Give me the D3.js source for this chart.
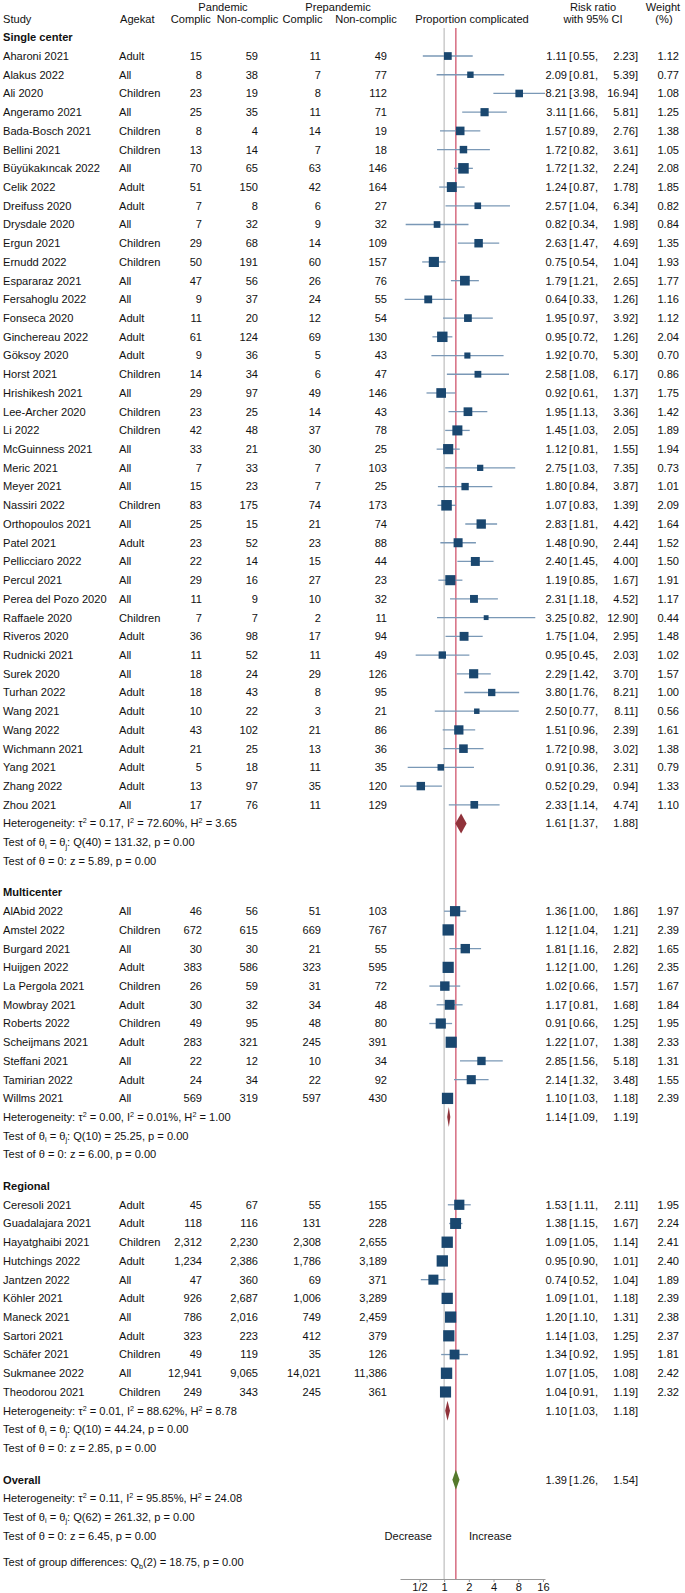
<!DOCTYPE html>
<html>
<head>
<meta charset="utf-8">
<script src="https://cdn.jsdelivr.net/npm/d3@7"></script>
<style>
body { margin: 0; background: #fff; }
svg { display: block; font-family: "Liberation Sans", Arial, sans-serif; font-size: 11.1px; fill: #111; }
</style>
</head>
<body>
<div id="chart"></div>
<script>
// ---- data ----
var groupNames = ["Single center", "Multicenter", "Regional"];
var groupSizes = [41, 11, 11];

var studies = ["Aharoni 2021","Alakus 2022","Ali 2020","Angeramo 2021","Bada-Bosch 2021","Bellini 2021","Büyükakıncak 2022","Celik 2022","Dreifuss 2020","Drysdale 2020","Ergun 2021","Ernudd 2022","Espararaz 2021","Fersahoglu 2022","Fonseca 2020","Ginchereau 2022","Göksoy 2020","Horst 2021","Hrishikesh 2021","Lee-Archer 2020","Li 2022","McGuinness 2021","Meric 2021","Meyer 2021","Nassiri 2022","Orthopoulos 2021","Patel 2021","Pellicciaro 2022","Percul 2021","Perea del Pozo 2020","Raffaele 2020","Riveros 2020","Rudnicki 2021","Surek 2020","Turhan 2022","Wang 2021","Wang 2022","Wichmann 2021","Yang 2021","Zhang 2022","Zhou 2021",
  "AlAbid 2022","Amstel 2022","Burgard 2021","Huijgen 2022","La Pergola 2021","Mowbray 2021","Roberts 2022","Scheijmans 2021","Steffani 2021","Tamirian 2022","Willms 2021",
  "Ceresoli 2021","Guadalajara 2021","Hayatghaibi 2021","Hutchings 2022","Jantzen 2022","Köhler 2021","Maneck 2021","Sartori 2021","Schäfer 2021","Sukmanee 2022","Theodorou 2021"];

var agekat = ["Adult","All","Children","All","Children","Children","All","Adult","Adult","All","Children","Children","All","All","Adult","Adult","Adult","Children","All","Children","Children","All","All","All","Children","All","Adult","All","All","All","Children","Adult","All","All","Adult","Adult","Adult","Adult","Adult","Adult","All",
  "All","Children","All","Adult","Children","Adult","Children","Adult","All","Adult","All",
  "Adult","Adult","Children","Adult","All","Adult","All","Adult","Children","All","Children"];

var panComplic = [15,8,23,25,8,13,70,51,7,7,29,50,47,9,11,61,9,14,29,23,42,33,7,15,83,25,23,22,29,11,7,36,11,18,18,10,43,21,5,13,17,
  46,672,30,383,26,30,49,283,22,24,569,
  45,118,2312,1234,47,926,786,323,49,12941,249];
var panNoncomplic = [59,38,19,35,4,14,65,150,8,32,68,191,56,37,20,124,36,34,97,25,48,21,33,23,175,15,52,14,16,9,7,98,52,24,43,22,102,25,18,97,76,
  56,615,30,586,59,32,95,321,12,34,319,
  67,116,2230,2386,360,2687,2016,223,119,9065,343];
var preComplic = [11,7,8,11,14,7,63,42,6,9,14,60,26,24,12,69,5,6,49,14,37,30,7,7,74,21,23,15,27,10,2,17,11,29,8,3,21,13,11,35,11,
  51,669,21,323,31,34,48,245,10,22,597,
  55,131,2308,1786,69,1006,749,412,35,14021,245];
var preNoncomplic = [49,77,112,71,19,18,146,164,27,32,109,157,76,55,54,130,43,47,146,43,78,25,103,25,173,74,88,44,23,32,11,94,49,126,95,21,86,36,35,120,129,
  103,767,55,595,72,48,80,391,34,92,430,
  155,228,2655,3189,371,3289,2459,379,126,11386,361];

var rr = [1.11,2.09,8.21,3.11,1.57,1.72,1.72,1.24,2.57,0.82,2.63,0.75,1.79,0.64,1.95,0.95,1.92,2.58,0.92,1.95,1.45,1.12,2.75,1.80,1.07,2.83,1.48,2.40,1.19,2.31,3.25,1.75,0.95,2.29,3.80,2.50,1.51,1.72,0.91,0.52,2.33,
  1.36,1.12,1.81,1.12,1.02,1.17,0.91,1.22,2.85,2.14,1.10,
  1.53,1.38,1.09,0.95,0.74,1.09,1.20,1.14,1.34,1.07,1.04];
var rrLow = [0.55,0.81,3.98,1.66,0.89,0.82,1.32,0.87,1.04,0.34,1.47,0.54,1.21,0.33,0.97,0.72,0.70,1.08,0.61,1.13,1.03,0.81,1.03,0.84,0.83,1.81,0.90,1.45,0.85,1.18,0.82,1.04,0.45,1.42,1.76,0.77,0.96,0.98,0.36,0.29,1.14,
  1.00,1.04,1.16,1.00,0.66,0.81,0.66,1.07,1.56,1.32,1.03,
  1.11,1.15,1.05,0.90,0.52,1.01,1.10,1.03,0.92,1.05,0.91];
var rrHigh = [2.23,5.39,16.94,5.81,2.76,3.61,2.24,1.78,6.34,1.98,4.69,1.04,2.65,1.26,3.92,1.26,5.30,6.17,1.37,3.36,2.05,1.55,7.35,3.87,1.39,4.42,2.44,4.00,1.67,4.52,12.90,2.95,2.03,3.70,8.21,8.11,2.39,3.02,2.31,0.94,4.74,
  1.86,1.21,2.82,1.26,1.57,1.68,1.25,1.38,5.18,3.48,1.18,
  2.11,1.67,1.14,1.01,1.04,1.18,1.31,1.25,1.95,1.08,1.19];
var weight = [1.12,0.77,1.08,1.25,1.38,1.05,2.08,1.85,0.82,0.84,1.35,1.93,1.77,1.16,1.12,2.04,0.70,0.86,1.75,1.42,1.89,1.94,0.73,1.01,2.09,1.64,1.52,1.50,1.91,1.17,0.44,1.48,1.02,1.57,1.00,0.56,1.61,1.38,0.79,1.33,1.10,
  1.97,2.39,1.65,2.35,1.67,1.84,1.95,2.33,1.31,1.55,2.39,
  1.95,2.24,2.41,2.40,1.89,2.39,2.38,2.37,1.81,2.42,2.32];

// subgroup summaries
var groupRR = [1.61, 1.14, 1.10];
var groupLow = [1.37, 1.09, 1.03];
var groupHigh = [1.88, 1.19, 1.18];
var groupTau2 = [0.17, 0.00, 0.01];
var groupI2 = [72.60, 0.01, 88.62];
var groupH2 = [3.65, 1.00, 8.78];
var groupQdf = [40, 10, 10];
var groupQ = [131.32, 25.25, 44.24];
var groupZ = [5.89, 6.00, 2.85];

// overall
var overallRR = 1.39, overallLow = 1.26, overallHigh = 1.54;
var overallTau2 = 0.11, overallI2 = 95.85, overallH2 = 24.08;
var overallQdf = 62, overallQ = 261.32, overallZ = 6.45;
var groupDiffDf = 2, groupDiffQ = 18.75;

var tickVals = [0.5, 1, 2, 4, 8, 16];
var tickLabels = ["1/2", "1", "2", "4", "8", "16"];

// ---- layout ----
var width = 685, height = 1593;
var rowH = 18.72, gapH = 31.5;
var axisY = 1579;
var f2 = d3.format(".2f"), fN = d3.format(",");

var svg = d3.select("#chart").append("svg")
    .attr("width", width)
    .attr("height", height);

var x = d3.scaleLog().base(2)
    .domain([d3.min(rrLow), d3.max(rrHigh)])
    .range([400, 545]);

var side = d3.scaleSqrt()
    .domain([0, d3.max(weight)])
    .range([0, 7.3 * Math.sqrt(d3.max(weight))]);

var navy = "#1a476f", ciCol = "#7a98b6", maroon = "#90323a", green = "#557a2c";

// column positions
var col = { study: 3, age: 119, pc: 202, pn: 258, qc: 321, qn: 387, est: 567, lb: 569, lo: 598, hi: 638, w: 679 };

function txt(g, xx, yy, s, anchor) {
  return g.append("text").attr("x", xx).attr("y", yy).attr("dy", "0.35em")
    .attr("text-anchor", anchor || "start").text(s);
}

// stat line with sup/sub parts; the shift is carried onto the next tspan
function statLine(g, yy, parts) {
  var t = g.append("text").attr("x", col.study).attr("y", yy).attr("dy", "0.35em");
  var shift = 0;
  parts.forEach(function (p) {
    var target = p[1] === "sup" ? -4 : (p[1] === "sub" ? 2.5 : 0);
    var ts = t.append("tspan").text(p[0]);
    if (target !== shift) ts.attr("dy", target - shift);
    if (p[1]) ts.attr("font-size", "7.2px");
    shift = target;
  });
}

function ciText(g, yy, est, lo, hi) {
  txt(g, col.est, yy, f2(est), "end");
  txt(g, col.lb, yy, "[");
  txt(g, col.lo, yy, f2(lo) + ",", "end");
  txt(g, col.hi, yy, f2(hi) + "]", "end");
}

// reference lines (drawn first, under the markers)
var lines = svg.append("g");
lines.append("line")
    .attr("x1", x(1)).attr("x2", x(1)).attr("y1", 28).attr("y2", axisY)
    .attr("stroke", "#bdbdbd").attr("stroke-width", 1.2);
lines.append("line")
    .attr("x1", x(overallRR)).attr("x2", x(overallRR)).attr("y1", 28).attr("y2", axisY)
    .attr("stroke", "#cc4762").attr("stroke-width", 1.2);

// header
var head = svg.append("g");
txt(head, 223, 7, "Pandemic", "middle");
txt(head, 338, 7, "Prepandemic", "middle");
txt(head, 593, 7, "Risk ratio", "middle");
txt(head, 663, 7, "Weight", "middle");
txt(head, col.study, 19.5, "Study");
txt(head, 120, 19.5, "Agekat");
txt(head, 190.8, 19.5, "Complic", "middle");
txt(head, 247.5, 19.5, "Non-complic", "middle");
txt(head, 302.5, 19.5, "Complic", "middle");
txt(head, 366, 19.5, "Non-complic", "middle");
txt(head, 472, 19.5, "Proportion complicated", "middle");
txt(head, 593, 19.5, "with 95% CI", "middle");
txt(head, 664, 19.5, "(%)", "middle");

var body = svg.append("g");
var marks = svg.append("g");

function diamond(yy, lo, est, hi, color) {
  marks.append("path")
    .attr("d", "M" + x(lo) + "," + yy + "L" + x(est) + "," + (yy - 10) +
               "L" + x(hi) + "," + yy + "L" + x(est) + "," + (yy + 10) + "Z")
    .attr("fill", color);
}

var cy = 37.3, start = 0;
groupNames.forEach(function (gname, gi) {
  txt(body, col.study, cy, gname).attr("font-weight", "bold");
  cy += rowH;
  for (var i = start; i < start + groupSizes[gi]; i++) {
    txt(body, col.study, cy, studies[i]);
    txt(body, col.age, cy, agekat[i]);
    txt(body, col.pc, cy, fN(panComplic[i]), "end");
    txt(body, col.pn, cy, fN(panNoncomplic[i]), "end");
    txt(body, col.qc, cy, fN(preComplic[i]), "end");
    txt(body, col.qn, cy, fN(preNoncomplic[i]), "end");
    ciText(body, cy, rr[i], rrLow[i], rrHigh[i]);
    txt(body, col.w, cy, f2(weight[i]), "end");

    marks.append("line")
      .attr("x1", x(rrLow[i])).attr("x2", x(rrHigh[i]))
      .attr("y1", cy).attr("y2", cy)
      .attr("stroke", ciCol).attr("stroke-width", 1.3);
    var s = side(weight[i]);
    marks.append("rect")
      .attr("x", x(rr[i]) - s / 2).attr("y", cy - s / 2)
      .attr("width", s).attr("height", s)
      .attr("fill", navy);
    cy += rowH;
  }
  start += groupSizes[gi];

  statLine(body, cy, [["Heterogeneity: τ"], ["2", "sup"], [" = " + f2(groupTau2[gi]) + ", I"], ["2", "sup"],
    [" = " + f2(groupI2[gi]) + "%, H"], ["2", "sup"], [" = " + f2(groupH2[gi])]]);
  diamond(cy, groupLow[gi], groupRR[gi], groupHigh[gi], maroon);
  ciText(body, cy, groupRR[gi], groupLow[gi], groupHigh[gi]);
  statLine(body, cy + rowH, [["Test of θ"], ["i", "sub"], [" = θ"], ["j", "sub"],
    [": Q(" + groupQdf[gi] + ") = " + f2(groupQ[gi]) + ", p = 0.00"]]);
  statLine(body, cy + 2 * rowH, [["Test of θ = 0: z = " + f2(groupZ[gi]) + ", p = 0.00"]]);
  cy += 2 * rowH + gapH;
});

// overall
txt(body, col.study, cy, "Overall").attr("font-weight", "bold");
diamond(cy, overallLow, overallRR, overallHigh, green);
ciText(body, cy, overallRR, overallLow, overallHigh);
statLine(body, cy + rowH, [["Heterogeneity: τ"], ["2", "sup"], [" = " + f2(overallTau2) + ", I"], ["2", "sup"],
  [" = " + f2(overallI2) + "%, H"], ["2", "sup"], [" = " + f2(overallH2)]]);
statLine(body, cy + 2 * rowH, [["Test of θ"], ["i", "sub"], [" = θ"], ["j", "sub"],
  [": Q(" + overallQdf + ") = " + f2(overallQ) + ", p = 0.00"]]);
statLine(body, cy + 3 * rowH, [["Test of θ = 0: z = " + f2(overallZ) + ", p = 0.00"]]);
statLine(body, cy + 3 * rowH + 26.4, [["Test of group differences: Q"], ["b", "sub"],
  ["(" + groupDiffDf + ") = " + f2(groupDiffQ) + ", p = 0.00"]]);

txt(body, 432, cy + 3 * rowH, "Decrease", "end");
txt(body, 469, cy + 3 * rowH, "Increase");

// x axis
var xAxis = d3.axisBottom(x)
    .tickValues(tickVals)
    .tickFormat(function (d, i) { return tickLabels[i]; })
    .tickSize(3)
    .tickSizeOuter(0);

var gx = svg.append("g")
    .attr("transform", "translate(0," + axisY + ")")
    .call(xAxis);
gx.select(".domain").attr("stroke", "#999");
gx.selectAll(".tick line").attr("stroke", "#999");
gx.selectAll(".tick text")
    .attr("y", 4)
    .attr("font-size", "11.1px")
    .attr("font-family", "\"Liberation Sans\", Arial, sans-serif")
    .attr("fill", "#111");
</script>
</body>
</html>
